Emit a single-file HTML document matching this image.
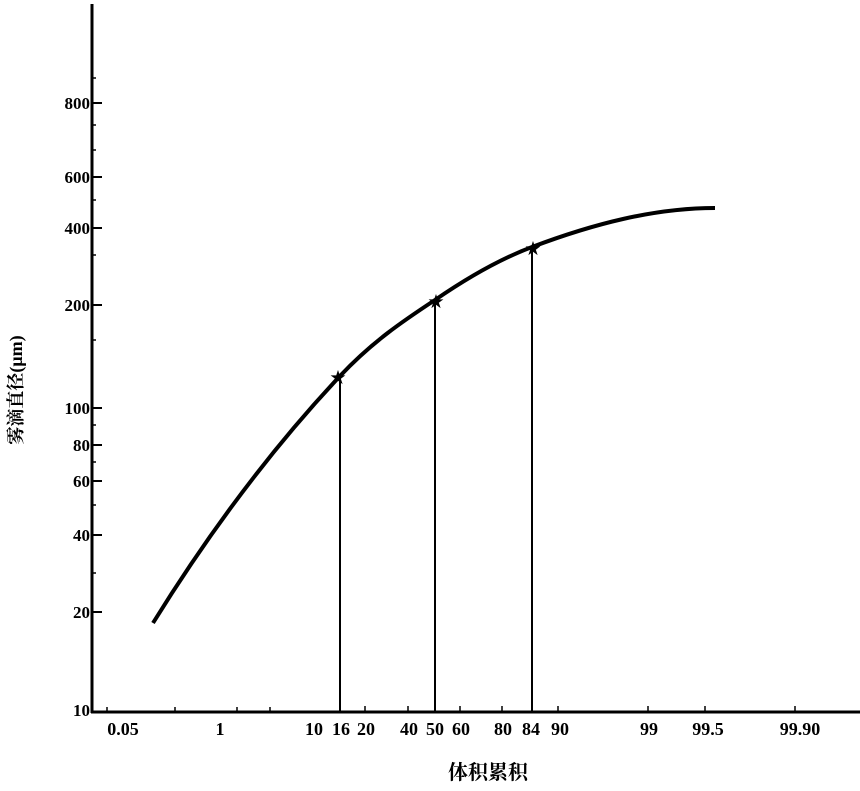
<!DOCTYPE html>
<html><head><meta charset="utf-8"><style>
body{margin:0;background:#fff;}
svg text{font-family:"Liberation Serif","Noto Serif CJK SC",serif;fill:#000;font-weight:bold;}
</style></head><body>
<svg width="860" height="786" viewBox="0 0 860 786" xmlns="http://www.w3.org/2000/svg">
<g stroke="#000" fill="none">
<line x1="92" y1="4" x2="92" y2="713" stroke-width="3"/>
<line x1="91" y1="712" x2="860" y2="712" stroke-width="3"/>
<g stroke-width="2">
<line x1="92" y1="103" x2="102" y2="103"/><line x1="92" y1="177" x2="102" y2="177"/>
<line x1="92" y1="228" x2="102" y2="228"/><line x1="92" y1="305" x2="102" y2="305"/>
<line x1="92" y1="408" x2="102" y2="408"/><line x1="92" y1="445" x2="102" y2="445"/>
<line x1="92" y1="481" x2="102" y2="481"/><line x1="92" y1="535" x2="102" y2="535"/>
<line x1="92" y1="612" x2="102" y2="612"/>
</g>
<g stroke-width="1.5">
<line x1="92" y1="78" x2="96" y2="78"/><line x1="92" y1="125" x2="96" y2="125"/><line x1="92" y1="150" x2="96" y2="150"/>
<line x1="92" y1="200" x2="96" y2="200"/><line x1="92" y1="255" x2="96" y2="255"/><line x1="92" y1="340" x2="96" y2="340"/>
<line x1="92" y1="425" x2="96" y2="425"/><line x1="92" y1="462" x2="96" y2="462"/><line x1="92" y1="505" x2="96" y2="505"/>
<line x1="92" y1="573" x2="96" y2="573"/>
</g>
<g stroke-width="1.5">
<line x1="107" y1="712" x2="107" y2="707"/><line x1="175" y1="712" x2="175" y2="707"/>
<line x1="237" y1="712" x2="237" y2="707"/><line x1="270" y1="712" x2="270" y2="707"/>
<line x1="365" y1="712" x2="365" y2="706"/><line x1="408" y1="712" x2="408" y2="706"/>
<line x1="460" y1="712" x2="460" y2="706"/><line x1="502" y1="712" x2="502" y2="706"/>
<line x1="558" y1="712" x2="558" y2="706"/><line x1="648" y1="712" x2="648" y2="706"/>
<line x1="705" y1="712" x2="705" y2="706"/><line x1="795" y1="712" x2="795" y2="706"/>
</g>
<path d="M153,623 C215,523 278,442 340,376 C372,342 403,321 435,300 C467,278 500,259 532,247 C593,224 654,208 715,208" stroke-width="4"/>
<g stroke-width="2">
<line x1="340" y1="376" x2="340" y2="712"/><line x1="435" y1="300" x2="435" y2="712"/><line x1="532" y1="247" x2="532" y2="712"/>
</g>
</g>
<g font-size="16">
<text x="338" y="383" text-anchor="middle">★</text>
<text x="436" y="307" text-anchor="middle">★</text>
<text x="533" y="254" text-anchor="middle">★</text>
</g>
<g font-size="17" text-anchor="end">
<text x="90" y="109">800</text><text x="90" y="183">600</text><text x="90" y="234">400</text>
<text x="90" y="311">200</text><text x="90" y="414">100</text><text x="90" y="451">80</text>
<text x="90" y="487">60</text><text x="90" y="541">40</text><text x="90" y="618">20</text>
<text x="90" y="716">10</text>
</g>
<g font-size="18" text-anchor="middle">
<text x="123" y="735">0.05</text><text x="220" y="735">1</text><text x="314" y="735">10</text>
<text x="341" y="735">16</text><text x="366" y="735">20</text><text x="409" y="735">40</text>
<text x="435" y="735">50</text><text x="461" y="735">60</text><text x="503" y="735">80</text>
<text x="531" y="735">84</text><text x="560" y="735">90</text><text x="649" y="735">99</text>
<text x="708" y="735">99.5</text><text x="800" y="735">99.90</text>
</g>
<text x="488" y="779" font-size="20" text-anchor="middle">体积累积</text>
<text transform="translate(22,390) rotate(-90)" font-size="18" text-anchor="middle">雾滴直径(μm)</text>
</svg>
</body></html>
